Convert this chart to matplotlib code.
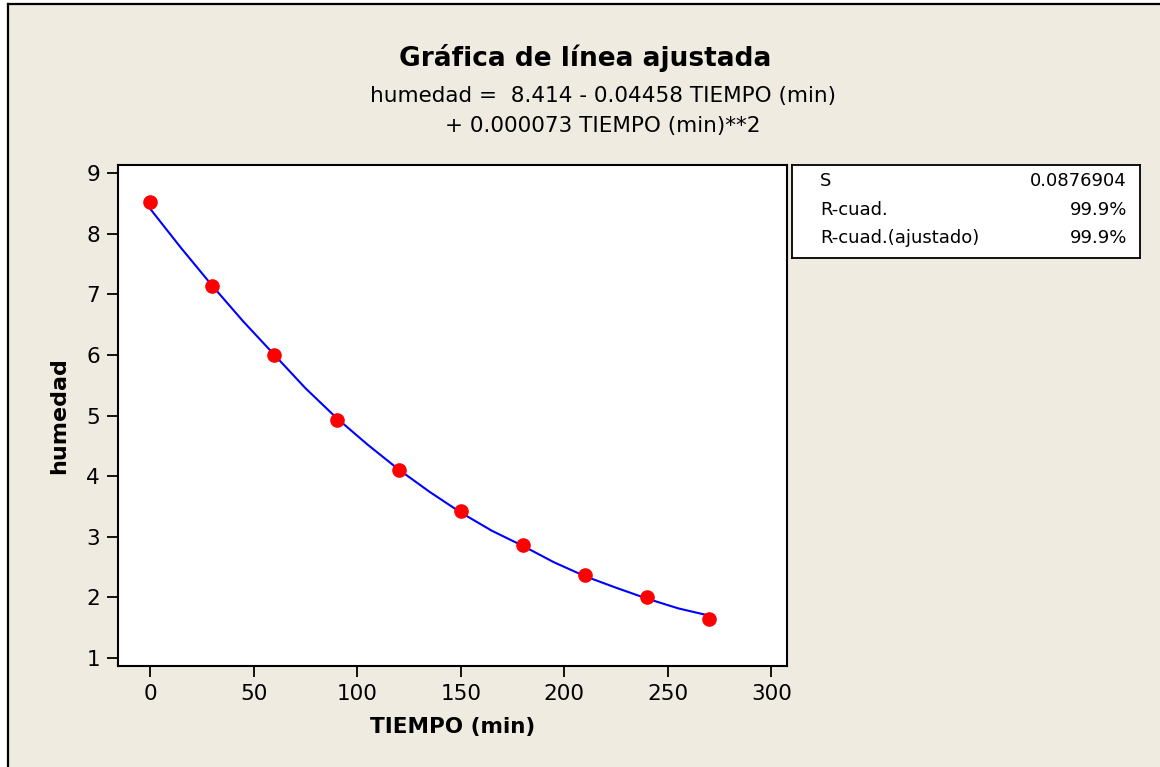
import matplotlib
matplotlib.use("Agg")
import matplotlib.pyplot as plt
from matplotlib.lines import Line2D
from matplotlib.patches import Rectangle

# observed points
tiempo = [0, 30, 60, 90, 120, 150, 180, 210, 240, 270]
humedad = [8.52, 7.14, 5.99, 4.92, 4.10, 3.42, 2.86, 2.37, 2.00, 1.64]

# fitted line, every 15 min
fit_x = [0, 15, 30, 45, 60, 75, 90, 105, 120, 135, 150, 165, 180, 195, 210, 225, 240, 255, 270]
fit_y = [8.41, 7.76, 7.14, 6.55, 6.00, 5.45, 4.96, 4.52, 4.11, 3.74, 3.40, 3.10, 2.85, 2.58,
         2.35, 2.16, 1.98, 1.82, 1.70]

xticks = [0, 50, 100, 150, 200, 250, 300]
yticks = [1, 2, 3, 4, 5, 6, 7, 8, 9]

stat_names = ["S", "R-cuad.", "R-cuad.(ajustado)"]
stat_values = ["0.0876904", "99.9%", "99.9%"]

title = "Gráfica de línea ajustada"
subtitle = "humedad =  8.414 - 0.04458 TIEMPO (min)\n+ 0.000073 TIEMPO (min)**2"

plt.rcParams['font.family'] = ['DejaVu Sans']
bg = "#EFEBE1"
W, H = 1160, 767

fig = plt.figure(figsize=(11.6, 7.67), dpi=100)
fig.patch.set_facecolor("white")
# beige panel with black frame on left/top
fig.add_artist(Rectangle((8 / W, 0), 1 - 8 / W, 1 - 4 / H, transform=fig.transFigure,
                         facecolor=bg, edgecolor="none", zorder=-10))
fig.add_artist(Line2D([8 / W, 8 / W], [0, 1 - 4 / H], transform=fig.transFigure,
                      color="black", lw=1.6))
fig.add_artist(Line2D([8 / W, 1.01], [1 - 4 / H, 1 - 4 / H], transform=fig.transFigure,
                      color="black", lw=1.6))

ax = fig.add_axes([118 / W, 1 - 666 / H, (787 - 118) / W, (666 - 165) / H])
ax.set_facecolor("white")
ax.plot(fit_x, fit_y, color="#0000FF", lw=1.5, zorder=2)
ax.plot(tiempo, humedad, "o", color="#FF0000", markersize=9.5, zorder=3)

ax.set_xlim(-15.5, 307.5)
ax.set_ylim(0.87, 9.13)
ax.set_xticks(xticks)
ax.set_yticks(yticks)
ax.tick_params(direction="out", length=8, width=1.3, labelsize=15.5, pad=5, color="black")
for s in ax.spines.values():
    s.set_linewidth(1.5)

ax.set_xlabel("TIEMPO (min)", fontsize=15.5, fontweight="bold", labelpad=9)
ax.set_ylabel("humedad", fontsize=16, fontweight="bold", labelpad=12)

fig.text(585 / W, 1 - 58 / H, title, ha="center", va="center", fontsize=19, fontweight="bold")
fig.text(603 / W, 1 - 111 / H, subtitle, ha="center", va="center", fontsize=15.5,
         linespacing=1.65)

# stats box
bx = fig.add_axes([792 / W, 1 - 258 / H, (1140 - 792) / W, (258 - 165) / H])
bx.set_xticks([])
bx.set_yticks([])
bx.set_facecolor("white")
for s in bx.spines.values():
    s.set_linewidth(1.3)
for i, (n, v) in enumerate(zip(stat_names, stat_values)):
    yy = 0.83 - i * 0.31
    bx.text(0.08, yy, n, fontsize=13, va="center", ha="left", transform=bx.transAxes)
    bx.text(0.963, yy, v, fontsize=13, va="center", ha="right", transform=bx.transAxes)

fig.savefig("out.png", dpi=100, facecolor=fig.get_facecolor())
